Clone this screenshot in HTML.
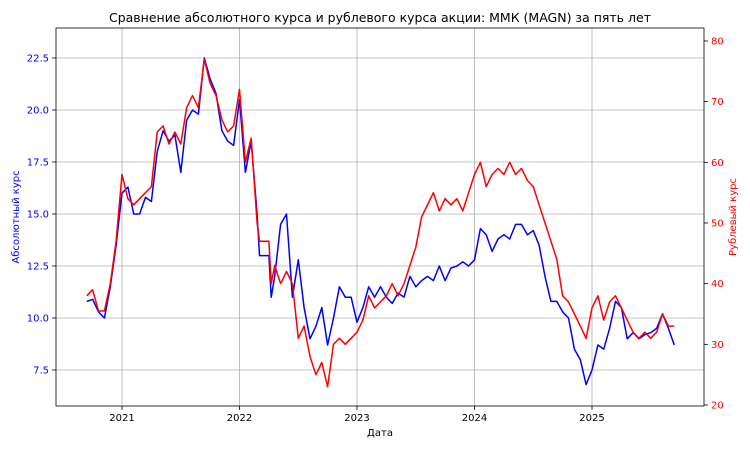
<!DOCTYPE html>
<html><head><meta charset="utf-8"><style>
body{margin:0;background:#fff}
svg text{font-family:"DejaVu Sans","Liberation Sans",sans-serif}
</style></head><body>
<svg id="c" width="750" height="450"></svg>
<script>
const dates=[2020.70,2020.75,2020.80,2020.85,2020.90,2020.95,2021.00,2021.05,2021.10,2021.15,2021.20,2021.25,2021.30,2021.35,2021.40,2021.45,2021.50,2021.55,2021.60,2021.65,2021.70,2021.75,2021.80,2021.85,2021.90,2021.95,2022.00,2022.05,2022.10,2022.15,2022.17,2022.25,2022.27,2022.30,2022.35,2022.40,2022.45,2022.50,2022.55,2022.60,2022.65,2022.70,2022.75,2022.80,2022.85,2022.90,2022.95,2023.00,2023.05,2023.10,2023.15,2023.20,2023.25,2023.30,2023.35,2023.40,2023.45,2023.50,2023.55,2023.60,2023.65,2023.70,2023.75,2023.80,2023.85,2023.90,2023.95,2024.00,2024.05,2024.10,2024.15,2024.20,2024.25,2024.30,2024.35,2024.40,2024.45,2024.50,2024.55,2024.60,2024.65,2024.70,2024.75,2024.80,2024.85,2024.90,2024.95,2025.00,2025.05,2025.10,2025.15,2025.20,2025.25,2025.30,2025.35,2025.40,2025.45,2025.50,2025.55,2025.60,2025.65,2025.70];
const absVals=[10.8,10.9,10.3,10.0,11.5,13.5,16.0,16.3,15.0,15.0,15.8,15.6,18.0,19.0,18.5,18.8,17.0,19.5,20.0,19.8,22.5,21.5,20.8,19.0,18.5,18.3,20.5,17.0,18.5,15.0,13.0,13.0,11.0,12.0,14.5,15.0,11.0,12.8,10.5,9.0,9.6,10.5,8.7,10.0,11.5,11.0,11.0,9.8,10.5,11.5,11.0,11.5,11.0,10.7,11.2,11.0,12.0,11.5,11.8,12.0,11.8,12.5,11.8,12.4,12.5,12.7,12.5,12.8,14.3,14.0,13.2,13.8,14.0,13.8,14.5,14.5,14.0,14.2,13.5,12.0,10.8,10.8,10.3,10.0,8.5,8.0,6.8,7.5,8.7,8.5,9.5,10.8,10.5,9.0,9.3,9.0,9.2,9.3,9.5,10.2,9.5,8.7];
const rubVals=[38,39,35.5,35.5,40,47,58,54,53,54,55,56,65,66,63,65,63,69,71,69,77,73,71,67,65,66,72,60,64,50,47,47,40,43,40,42,40,31,33,28,25,27,23,30,31,30,31,32,34,38,36,37,38,40,38,40,43,46,51,53,55,52,54,53,54,52,55,58,60,56,58,59,58,60,58,59,57,56,53,50,47,44,38,37,35,33,31,36,38,34,37,38,36,34,32,31,32,31,32,35,33,33];
const xTicks=[2021,2022,2023,2024,2025];
const leftTicks=[7.5,10.0,12.5,15.0,17.5,20.0,22.5];
const rightTicks=[20,30,40,50,60,70,80];

const L=56,R=704,T=28,B=406;
const x=d=>122+(d-2021)*117.5;
const yl=v=>370-(v-7.5)*20.8;
const yr=v=>405-(v-20)*6.067;
const svg=document.getElementById('c');
const NS='http://www.w3.org/2000/svg';
function mk(tag,attrs,parent){const e=document.createElementNS(NS,tag);for(const k in attrs)e.setAttribute(k,attrs[k]);(parent||svg).appendChild(e);return e;}
function txt(s,attrs){const e=mk('text',attrs);e.textContent=s;return e;}

// grid
xTicks.forEach(t=>{const g=mk('line',{x1:x(t),x2:x(t),y1:T,y2:B,stroke:'#b0b0b0','stroke-width':0.8});

});
leftTicks.forEach(t=>{const g=mk('line',{x1:L,x2:R,y1:yl(t),y2:yl(t),stroke:'#b0b0b0','stroke-width':0.8});

});

// series
function path(vals,yf,color,name){
  let d='';vals.forEach((v,i)=>{d+=(i?'L':'M')+x(dates[i]).toFixed(1)+','+yf(v).toFixed(1);});
  const p=mk('path',{d:d,fill:'none',stroke:color,'stroke-width':1.5,'stroke-linejoin':'round'});
  
  
}
path(absVals,yl,'#0000ff','absolute-price-line');
path(rubVals,yr,'#ff0000','ruble-price-line');

// frame
const f=mk('rect',{x:L,y:T,width:R-L,height:B-T,fill:'none',stroke:'#000','stroke-width':0.8});



// ticks
xTicks.forEach(t=>{mk('line',{x1:x(t),x2:x(t),y1:B,y2:B+4,stroke:'#000','stroke-width':0.8});
const l=txt(String(t),{x:x(t),y:B+15,'text-anchor':'middle','font-size':10,fill:'#000'});

});
leftTicks.forEach(t=>{mk('line',{x1:L-4,x2:L,y1:yl(t),y2:yl(t),stroke:'#000','stroke-width':0.8});
const l=txt(t.toFixed(1),{x:L-7,y:yl(t)+3.5,'text-anchor':'end','font-size':10,fill:'#0000ff'});

});
rightTicks.forEach(t=>{mk('line',{x1:R,x2:R+4,y1:yr(t),y2:yr(t),stroke:'#000','stroke-width':0.8});
const l=txt(String(t),{x:R+7,y:yr(t)+3.5,'text-anchor':'start','font-size':10,fill:'#ff0000'});

});

// labels
let e=txt('Сравнение абсолютного курса и рублевого курса акции: ММК (MAGN) за пять лет',{x:380,y:22,'text-anchor':'middle','font-size':12.5,fill:'#000'});

e=txt('Дата',{x:380,y:436,'text-anchor':'middle','font-size':10,fill:'#000'});

e=txt('Абсолютный курс',{x:0,y:0,'text-anchor':'middle','font-size':10,fill:'#0000ff',transform:'translate(19,217) rotate(-90)'});

e=txt('Рублевый курс',{x:0,y:0,'text-anchor':'middle','font-size':10,fill:'#ff0000',transform:'translate(736,217) rotate(-90)'});

</script>
</body></html>
